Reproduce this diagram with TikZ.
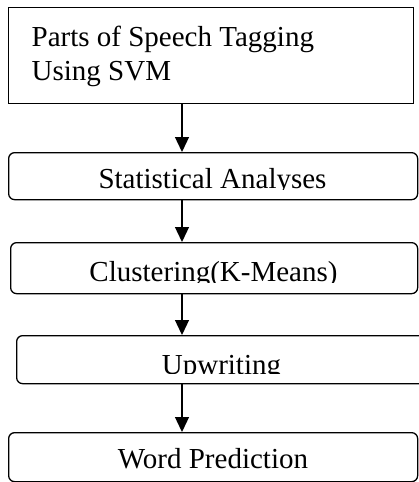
\documentclass[tikz,border=0pt]{standalone}
\usepackage{fontspec}
\setmainfont{Liberation Serif}
\usetikzlibrary{arrows.meta}
\tikzset{
  boxbase/.style={draw, line width=1.3pt, inner sep=0pt, anchor=north west},
  sqbox/.style={boxbase},
  rbox/.style={boxbase, rounded corners=6pt},
  lbl/.style={inner sep=0pt, anchor=base, font=\fontsize{29}{34}\selectfont},
  arr/.style={line width=1.3pt, -{Triangle[width=14pt,length=15pt]}}
}
\begin{document}
\begin{tikzpicture}[x=1pt,y=-1pt]
\useasboundingbox (0,0) rectangle (418,482);
% boxes
\node[sqbox, minimum width=405pt, minimum height=96pt] (b1) at (8,7) {};
\node[rbox, minimum width=409pt, minimum height=47pt] (b2) at (8,152) {};
\node[rbox, minimum width=407pt, minimum height=51pt] (b3) at (10,242) {};
\node[rbox, minimum width=409pt, minimum height=48pt] (b4) at (16,335) {};
\node[rbox, minimum width=409pt, minimum height=49pt] (b5) at (8,432) {};
% texts
\node[lbl, anchor=base west] (t1a) at (31.5,46) {Parts of Speech Tagging};
\node[lbl, anchor=base west] (t1b) at (31.5,80) {Using SVM};
\begin{scope}
  \clip (0,150) rectangle (418,189.5);
  \node[lbl] (t2) at (212.5,188.5) {Statistical Analyses};
\end{scope}
\begin{scope}
  \clip (0,240) rectangle (418,282);
  \node[lbl] (t3) at (213.5,281) {Clustering(K-Means)};
\end{scope}
\begin{scope}
  \clip (0,333) rectangle (418,373);
  \node[lbl] (t4) at (221.5,374) {Upwriting};
\end{scope}
\node[lbl] (t5) at (213,468) {Word Prediction};
% arrows
\coordinate (ax) at (182,0);
\draw[arr] (b1.south -| ax) -- (b2.north -| ax);
\draw[arr] (b2.south -| ax) -- (b3.north -| ax);
\draw[arr] (b3.south -| ax) -- (b4.north -| ax);
\draw[arr] (b4.south -| ax) -- (b5.north -| ax);
\end{tikzpicture}
\end{document}
